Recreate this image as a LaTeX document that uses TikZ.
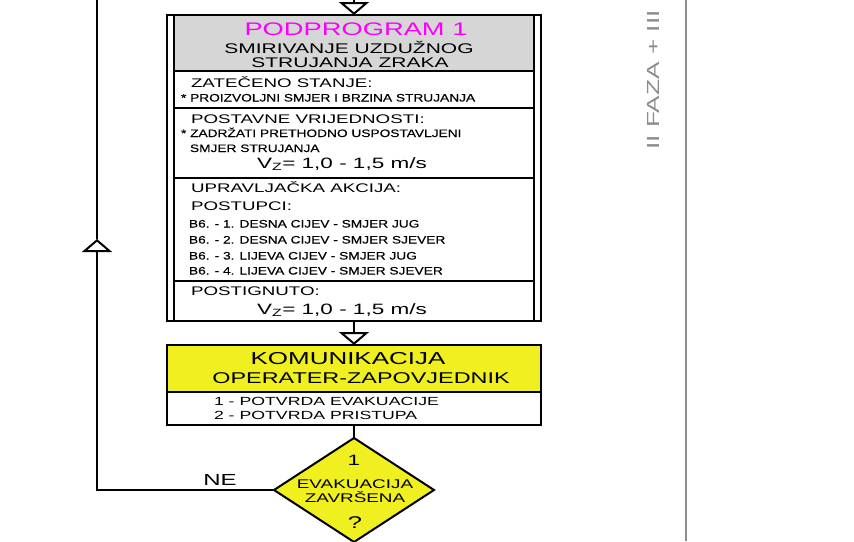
\documentclass[tikz,border=0pt]{standalone}
\usepackage{fontspec}
\setmainfont{Liberation Sans}[FakeStretch=1.5]
\newfontfamily\uzifont{Liberation Sans}[FakeStretch=1.27, FakeBold=0.4]
\usepackage{tikz}
\usetikzlibrary{arrows.meta, shapes.geometric, positioning}
\definecolor{podsiva}{RGB}{214,214,214}
\definecolor{zuta}{RGB}{240,240,32}
\definecolor{magenta}{RGB}{250,0,250}
\definecolor{fazasiva}{RGB}{140,140,140}
\newcommand{\velicina}[1]{\fontsize{#1}{#1}\selectfont}
\tikzset{
  tok/.style={
    >={Triangle[open, length=13pt, width=30pt, fill=white]}, % otvoreni trokut
    line width=2pt,
  }
}
\tikzset{
  okvir/.style={draw, line width=2pt, inner sep=0pt, outer sep=0pt},
  red/.style={inner sep=0pt, anchor=base west},
  sredina/.style={inner sep=0pt, anchor=base},
  odjeljak/.style={red, font=\velicina{12.5}},
  sitno/.style={red, font=\uzifont\velicina{10.8}},
  brzina/.style={sredina, font=\velicina{15}},
}

\begin{document}
\begin{tikzpicture}[x=1pt, y=-1pt, tok]
    \useasboundingbox (0,0) rectangle (854,541);
    \def\lijevo{190}

    % Podprogram
    \fill[podsiva] (174,15) rectangle (534,71);
    \node[okvir, minimum width=374pt, minimum height=306pt] (podprogram) at (354,168) {};
    \draw[line width=1.5pt] ([xshift=7pt]podprogram.north west) -- ([xshift=7pt]podprogram.south west);
    \draw[line width=1.5pt] ([xshift=-7pt]podprogram.north east) -- ([xshift=-7pt]podprogram.south east);
    \foreach \y in {71,108,178,281}
        \draw[line width=1.5pt] (174,\y) -- (534,\y);

    \node[sredina, font=\velicina{18.2}, text=magenta] (naslov) at (356,35) {PODPROGRAM 1};
    \node[sredina, font=\velicina{14}] (naslov2) at (349,53) {SMIRIVANJE UZDUŽNOG};
    \node[sredina, font=\velicina{14}] (naslov3) at (350,67) {STRUJANJA ZRAKA};

    \node[odjeljak] (zateceno) at (\lijevo,87) {ZATEČENO STANJE:};
    \node[sitno] (proizvoljni) at (180,101.5) {* PROIZVOLJNI SMJER I BRZINA STRUJANJA};
    \node[odjeljak] (postavne) at (\lijevo,123.5) {POSTAVNE VRIJEDNOSTI:};
    \node[sitno] (zadrzati) at (180,137) {* ZADRŽATI PRETHODNO USPOSTAVLJENI};
    \node[sitno] (smjer) at (189,152) {SMJER STRUJANJA};
    \node[brzina] (brzina1) at (342,168) {V\textsubscript{Z}= 1,0 - 1,5 m/s};
    \node[odjeljak] (akcija) at (\lijevo,192.5) {UPRAVLJAČKA AKCIJA:};
    \node[odjeljak] (postupci) at (\lijevo,210.5) {POSTUPCI:};
    \node[sitno] (b1) at (188,227.5) {B6. - 1. DESNA CIJEV - SMJER JUG};
    \node[sitno] (b2) at (188,243.5) {B6. - 2. DESNA CIJEV - SMJER SJEVER};
    \node[sitno] (b3) at (188,259.5) {B6. - 3. LIJEVA CIJEV - SMJER JUG};
    \node[sitno] (b4) at (188,274.5) {B6. - 4. LIJEVA CIJEV - SMJER SJEVER};
    \node[odjeljak] (postignuto) at (\lijevo,295.5) {POSTIGNUTO:};
    \node[brzina] (brzina2) at (342,314.5) {V\textsubscript{Z}= 1,0 - 1,5 m/s};

    % Komunikacija
    \node[okvir, fill=zuta, minimum width=374pt, minimum height=47pt] (komunikacija) at (354,368.5) {};
    \node[okvir, fill=white, minimum width=374pt, minimum height=33pt, below=0pt of komunikacija] (potvrde) {};
    \node[sredina, font=\velicina{17.3}] (kom1) at (348,364) {KOMUNIKACIJA};
    \node[sredina, font=\velicina{15.6}] (kom2) at (361,383) {OPERATER-ZAPOVJEDNIK};
    \node[red, font=\velicina{11.8}] (potvrda1) at (213,405) {1 - POTVRDA EVAKUACIJE};
    \node[red, font=\velicina{11.8}] (potvrda2) at (213,419) {2 - POTVRDA PRISTUPA};

    % Odluka
    \node[okvir, diamond, aspect=1.54, fill=zuta, minimum width=160pt, minimum height=104pt] (evakuacija) at (354,490) {};
    \node[sredina, font=\velicina{15}] (broj) at (354,465) {1};
    \node[sredina, font=\velicina{12.6}] (odluka1) at (355,488) {EVAKUACIJA};
    \node[sredina, font=\velicina{12.6}] (odluka2) at (355,502) {ZAVRŠENA};
    \node[sredina, font=\velicina{17}] (upitnik) at (355,528) {?};
    \node[sredina, font=\velicina{16}] (ne) at (220,485) {NE};

    % Tokovi
    \coordinate (ulaz) at (354,0);
    \coordinate (strelica) at (97,239);
    \coordinate (povratak) at (97,0);
    \draw[->] (ulaz) -- (podprogram.north);
    \draw[->] (podprogram.south) -- (komunikacija.north);
    \draw (potvrde.south) -- (evakuacija.north);
    \draw[->] (evakuacija.west) -| (strelica);
    \draw (strelica) -- (povratak);

    % Faza
    \draw[fazasiva, line width=1.5pt] (686,0) -- (686,541);
    \node[inner sep=0pt, rotate=90, font=\velicina{17.5}, text=fazasiva] (faza) at (653,80) {II FAZA + III};
\end{tikzpicture}
\end{document}
